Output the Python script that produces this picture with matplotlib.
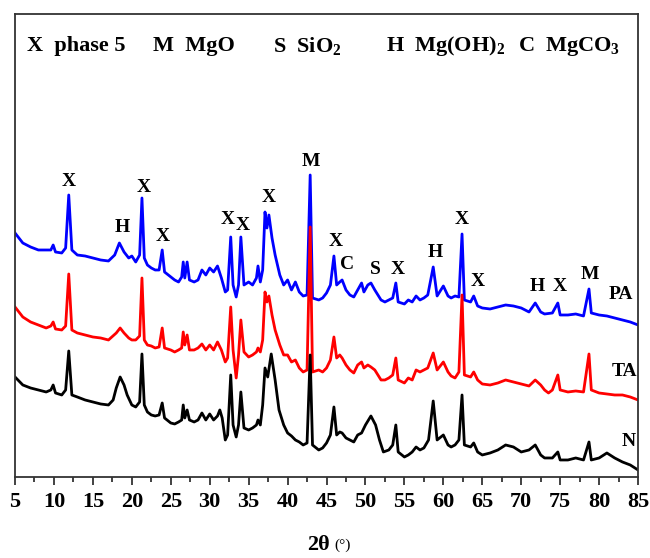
import numpy as np
import matplotlib
matplotlib.use('Agg')
import matplotlib.pyplot as plt

pa_2theta = [5.0, 6.0, 7.0, 8.0, 9.0, 9.6, 9.9, 10.2, 11.0, 11.5, 11.9, 12.3, 13.0, 14.0, 15.0, 16.0, 17.0,
             17.8, 18.4, 19.0, 19.6, 20.0, 20.5, 21.0, 21.3, 21.6, 22.0, 22.5, 23.0, 23.5, 23.9, 24.2,
             25.0, 25.5, 26.0, 26.4, 26.6, 26.8, 27.1, 27.4, 28.0, 28.5, 29.0, 29.5, 30.0, 30.5, 31.0,
             31.5, 32.0, 32.3, 32.7, 33.0, 33.4, 33.7, 34.0, 34.4, 35.0, 35.5, 36.0, 36.2, 36.5, 36.8,
             37.1, 37.35, 37.6, 38.0, 38.4, 39.0, 39.5, 40.0, 40.5, 41.0, 41.5, 42.0, 42.5, 42.9, 43.2,
             44.0, 44.5, 45.0, 45.5, 45.95, 46.3, 46.7, 47.0, 47.5, 48.0, 48.5, 49.0, 49.5, 49.8, 50.3,
             50.7, 51.2, 52.0, 52.5, 53.0, 53.5, 53.9, 54.2, 55.0, 55.5, 56.0, 56.5, 57.0, 57.5, 58.0,
             58.7, 59.2, 60.0, 60.6, 61.0, 61.5, 62.0, 62.4, 62.7, 63.5, 63.9, 64.4, 65.0, 66.0, 67.0,
             68.0, 69.0, 70.0, 71.0, 71.8, 72.5, 73.0, 74.0, 74.7, 75.0, 76.0, 77.0, 78.0, 78.7, 79.0,
             80.0, 81.0, 82.0, 83.0, 84.0, 85.0]
pa_int = [267, 257, 253, 250, 250, 250, 255, 248, 247, 252, 305, 250, 245, 244, 242, 240, 239,
          245, 257, 248, 242, 244, 238, 245, 302, 242, 235, 232, 230, 230, 250, 228,
          223, 220, 218, 223, 238, 222, 238, 220, 218, 220, 230, 225, 232, 228, 234,
          222, 208, 210, 263, 215, 203, 215, 263, 215, 218, 215, 222, 234, 218, 230,
          288, 272, 285, 262, 245, 225, 215, 220, 210, 218, 208, 204, 205, 325, 202,
          200, 202, 207, 215, 244, 215, 218, 220, 210, 205, 203, 210, 217, 208, 215,
          217, 210, 200, 198, 200, 202, 217, 198, 196, 200, 198, 204, 200, 202, 205,
          233, 204, 214, 204, 202, 204, 203, 266, 200, 198, 204, 194, 192, 191, 193,
          195, 194, 192, 188, 197, 188, 186, 187, 197, 185, 185, 186, 184, 211, 187,
          185, 184, 182, 180, 178, 175]

ta_2theta = [5.0, 6.0, 7.0, 8.0, 9.0, 9.6, 9.9, 10.2, 11.0, 11.5, 11.9, 12.3, 13.0, 14.0, 15.0, 16.0, 17.0,
             18.0, 18.5, 19.0, 19.6, 20.0, 20.5, 21.0, 21.3, 21.6, 22.0, 22.5, 23.0, 23.5, 23.9, 24.2,
             25.0, 25.5, 26.0, 26.4, 26.6, 26.8, 27.1, 27.4, 28.0, 28.5, 29.0, 29.5, 30.0, 30.5, 31.0,
             31.5, 32.0, 32.3, 32.7, 33.0, 33.4, 33.7, 34.0, 34.4, 35.0, 35.5, 36.0, 36.2, 36.5, 36.8,
             37.1, 37.35, 37.6, 38.0, 38.4, 39.0, 39.5, 40.0, 40.5, 41.0, 41.5, 42.0, 42.5, 42.9, 43.2,
             44.0, 44.5, 45.0, 45.5, 45.95, 46.3, 46.7, 47.0, 47.5, 48.0, 48.5, 49.0, 49.5, 49.8, 50.3,
             50.7, 51.2, 52.0, 52.5, 53.0, 53.5, 53.9, 54.2, 55.0, 55.5, 56.0, 56.5, 57.0, 57.5, 58.0,
             58.7, 59.2, 60.0, 60.6, 61.0, 61.5, 62.0, 62.4, 62.7, 63.5, 63.9, 64.4, 65.0, 66.0, 67.0,
             68.0, 69.0, 70.0, 71.0, 71.8, 72.5, 73.0, 73.5, 74.0, 74.7, 75.0, 76.0, 77.0, 78.0, 78.7,
             79.0, 80.0, 81.0, 82.0, 83.0, 84.0, 85.0]
ta_int = [193, 183, 178, 175, 172, 174, 178, 171, 170, 174, 226, 170, 167, 165, 163, 162, 160,
          167, 172, 167, 162, 160, 160, 164, 222, 160, 155, 154, 152, 153, 172, 152,
          150, 148, 150, 152, 168, 155, 165, 150, 150, 152, 156, 150, 155, 150, 158,
          150, 138, 142, 193, 150, 122, 145, 180, 148, 143, 145, 148, 152, 148, 160,
          208, 198, 204, 185, 170, 155, 145, 145, 138, 140, 132, 128, 130, 273, 128,
          130, 128, 132, 140, 163, 142, 145, 142, 135, 130, 127, 135, 138, 132, 135,
          133, 130, 120, 120, 122, 125, 142, 120, 117, 122, 120, 130, 128, 130, 132,
          147, 130, 138, 128, 124, 122, 128, 205, 125, 123, 128, 120, 116, 115, 117,
          120, 118, 116, 114, 120, 115, 110, 107, 110, 125, 110, 108, 109, 108, 146,
          110, 107, 106, 105, 105, 103, 100]

n_2theta = [5.0, 6.0, 7.0, 8.0, 9.0, 9.6, 9.9, 10.2, 11.0, 11.5, 11.9, 12.3, 13.0, 14.0, 15.0, 16.0, 17.0,
            17.6, 18.0, 18.5, 19.0, 19.4, 20.0, 20.5, 21.0, 21.3, 21.6, 22.0, 22.5, 23.0, 23.5, 23.9,
            24.2, 25.0, 25.5, 26.0, 26.4, 26.6, 26.8, 27.1, 27.4, 28.0, 28.5, 29.0, 29.5, 30.0, 30.5,
            31.0, 31.3, 31.6, 32.0, 32.3, 32.7, 33.0, 33.4, 33.7, 34.0, 34.4, 35.0, 35.5, 36.0, 36.2,
            36.5, 36.8, 37.1, 37.45, 37.9, 38.4, 38.9, 39.5, 40.0, 40.5, 41.0, 41.5, 42.0, 42.5, 42.9,
            43.2, 44.0, 44.5, 45.0, 45.5, 45.95, 46.3, 46.7, 47.0, 47.5, 48.0, 48.5, 49.0, 49.5, 50.0,
            50.7, 51.3, 51.8, 52.3, 53.0, 53.5, 53.9, 54.2, 55.0, 55.5, 56.0, 56.5, 57.0, 57.5, 58.1,
            58.7, 59.2, 60.0, 60.6, 61.0, 61.5, 62.0, 62.4, 62.7, 63.5, 63.9, 64.4, 65.0, 66.0, 67.0,
            68.0, 69.0, 70.0, 71.0, 71.8, 72.5, 73.0, 74.0, 74.7, 75.0, 76.0, 77.0, 78.0, 78.7, 79.0,
            80.0, 81.0, 82.0, 83.0, 84.0, 85.0]
n_int = [123, 115, 112, 110, 108, 110, 115, 107, 105, 110, 149, 105, 103, 100, 98, 96, 95,
         100, 112, 123, 115, 105, 95, 93, 98, 146, 95, 88, 85, 84, 85, 97,
         82, 77, 76, 78, 80, 95, 82, 90, 80, 78, 80, 87, 80, 86, 80,
         84, 90, 82, 60, 65, 125, 75, 63, 75, 108, 72, 70, 72, 75, 80,
         75, 95, 132, 123, 146, 120, 90, 75, 67, 64, 60, 58, 55, 57, 145,
         55, 50, 52, 57, 65, 93, 65, 68, 67, 62, 60, 58, 65, 67, 75,
         84, 75, 60, 48, 50, 55, 75, 48, 43, 45, 48, 53, 50, 52, 60,
         99, 60, 65, 55, 53, 55, 60, 105, 55, 53, 57, 48, 45, 47, 50,
         55, 53, 48, 50, 55, 45, 42, 42, 48, 40, 40, 42, 40, 58, 40,
         42, 47, 42, 38, 35, 30]

# phase letters above the peaks
peak_labels = ['X', 'H', 'X', 'X', 'X', 'X', 'X', 'M', 'X', 'C', 'S', 'X', 'H', 'X', 'X', 'H', 'X', 'M']
peak_x = [11.9, 18.8, 21.5, 24.0, 32.3, 34.2, 37.6, 43.0, 46.2, 47.6, 51.3, 54.2, 59.0, 62.4, 64.4, 72.1, 75.0, 78.8]
peak_y = [318, 272, 312, 263, 280, 274, 302, 338, 258, 235, 230, 230, 247, 280, 218, 213, 213, 225]

sample_names = ['PA', 'TA', 'N']
sample_x = [82.8, 83.2, 83.8]
sample_y = [205, 128, 58]

phase_keys = ['X', 'M', 'S', 'H', 'C']
phase_names = ['phase 5', 'MgO', 'SiO$\\mathbf{_2}$', 'Mg(OH)$\\mathbf{_2}$', 'MgCO$\\mathbf{_3}$']
phase_x = [6.6, 22.7, 38.1, 52.7, 69.6]

plt.rcParams['font.family'] = ['Liberation Serif', 'DejaVu Serif']
plt.rcParams['mathtext.fontset'] = 'custom'
plt.rcParams['mathtext.rm'] = 'Liberation Serif'
plt.rcParams['mathtext.bf'] = 'Liberation Serif:bold'

fig = plt.figure(figsize=(6.5, 5.58), dpi=100)
ax = fig.add_axes([0.0231, 0.1452, 0.9585, 0.8297])

ax.plot(pa_2theta, pa_int, color='#0000ff', lw=2.0)
ax.plot(ta_2theta, ta_int, color='#ff0000', lw=2.0)
ax.plot(n_2theta, n_int, color='black', lw=2.0)

for lab, x, y in zip(peak_labels, peak_x, peak_y):
    ax.text(x, y, lab, ha='center', va='center', fontsize=14, fontweight='bold')
for lab, x, y in zip(sample_names, sample_x, sample_y):
    ax.text(x, y, lab, ha='center', va='center', fontsize=14, fontweight='bold')

for k, name, x in zip(phase_keys, phase_names, phase_x):
    ax.text(x, 454, k + '  ' + name, ha='left', va='center', fontsize=16, fontweight='bold')

ax.set_xlim(5, 85)
ax.set_ylim(23, 486)
ax.set_xticks(np.arange(5, 86, 5))
ax.set_xticks(np.arange(7.5, 85, 5), minor=True)
ax.set_yticks([])
ax.tick_params(axis='x', which='major', direction='out', length=6, width=1.3,
               labelsize=16, pad=5, color='#333333')
ax.tick_params(axis='x', which='minor', direction='out', length=3.5, width=1.3, color='#333333')
for lbl in ax.get_xticklabels():
    lbl.set_fontweight('bold')
for s in ax.spines.values():
    s.set_linewidth(1.3)
    s.set_color('#333333')

fig.text(0.507, 1 - 545 / 558, '2θ', ha='right', va='center', fontsize=16, fontweight='bold')
fig.text(0.514, 1 - 545 / 558, '(°)', ha='left', va='center', fontsize=11)

fig.savefig('out.png', dpi=100)
